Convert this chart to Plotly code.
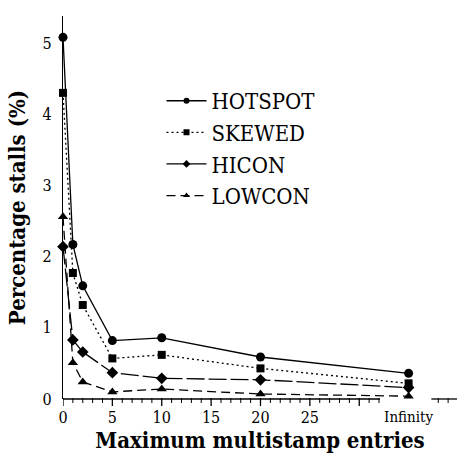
import plotly.graph_objects as go

x_pos = [0, 1, 2, 5, 10, 20, 35]  # 35 = "Infinity"
hotspot = [5.08, 2.17, 1.59, 0.82, 0.86, 0.59, 0.36]
skewed = [4.30, 1.77, 1.32, 0.57, 0.62, 0.43, 0.22]
hicon = [2.14, 0.83, 0.66, 0.37, 0.29, 0.27, 0.16]
lowcon = [2.56, 0.51, 0.24, 0.10, 0.14, 0.07, 0.04]

series = [
    ("HOTSPOT", hotspot, "solid", "circle", 9),
    ("SKEWED", skewed, "2px,3px", "square", 8),
    ("HICON", hicon, "18px,4px", "diamond", 9),
    ("LOWCON", lowcon, "9px,5px", "triangle-up", 9),
]

major_x = [0, 5, 10, 15, 20, 25, 30]
major_x_text = ["0", "5", "10", "15", "20", "25", ""]
minor_x = [v for v in list(range(0, 33)) + [38, 39] if v not in major_x]
major_y = [0, 1, 2, 3, 4, 5]
minor_y = [round(i * 0.1, 1) for i in range(54) if i % 10]
inf_pos = [35]
inf_text = ["Infinity"]

FONT = "DejaVu Serif Condensed, DejaVu Serif"
INK = "black"

fig = go.Figure()
for name, vals, dash, sym, sz in series:
    fig.add_trace(go.Scatter(
        x=x_pos, y=vals, name=name, mode="lines+markers",
        line=dict(color=INK, width=1.3, dash=dash),
        marker=dict(symbol=sym, size=sz, color=INK),
        cliponaxis=False, showlegend=False,
    ))
for name, vals, dash, sym, sz in series:
    fig.add_trace(go.Scatter(
        x=[None], y=[None], name=name, mode="lines+markers",
        line=dict(color=INK, width=1.3, dash=dash),
        marker=dict(symbol=sym, size=6, color=INK),
        showlegend=True,
    ))

fig.add_trace(go.Scatter(x=inf_pos, y=[0], xaxis="x2", mode="markers",
                         marker=dict(opacity=0), showlegend=False, hoverinfo="skip"))

# broken x axis line
fig.add_shape(type="line", xref="x", yref="paper", x0=0, x1=32.1, y0=0, y1=0,
              line=dict(color=INK, width=1.3))
fig.add_shape(type="line", xref="x", yref="paper", x0=37.3, x1=40, y0=0, y1=0,
              line=dict(color=INK, width=1.3))

# tick marks (drawn from the tick lists, pixel lengths)
for vals, ln, w in [(major_x, 7, 1.3), (minor_x, 4, 1)]:
    for v in vals:
        fig.add_shape(type="line", xref="x", yref="paper", ysizemode="pixel",
                      yanchor=0, x0=v, x1=v, y0=1, y1=-ln,
                      line=dict(color=INK, width=w))
for vals, ln, w in [(major_y, 7, 1.3), (minor_y, 4, 1)]:
    for v in vals:
        fig.add_shape(type="line", xref="x", yref="y", xsizemode="pixel",
                      xanchor=0, x0=-ln, x1=0, y0=v, y1=v,
                      line=dict(color=INK, width=w))

fig.update_layout(
    template="none",
    width=457, height=458,
    margin=dict(l=63, r=0, t=16, b=59, pad=0),
    paper_bgcolor="white", plot_bgcolor="white",
    font=dict(family=FONT, color=INK, size=16),
    showlegend=True,
    legend=dict(x=0.25, y=0.833, xanchor="left", yanchor="top",
                font=dict(family=FONT, size=22),
                bgcolor="rgba(0,0,0,0)", itemwidth=40, tracegroupgap=0),
    xaxis=dict(range=[0, 39.9], showline=False, showgrid=False, zeroline=False,
               automargin=False,
               tickmode="array", tickvals=major_x, ticktext=major_x_text,
               ticks="", ticklabelstandoff=7,
               tickfont=dict(family=FONT, size=16),
               title=dict(text="<b>Maximum multistamp entries</b>",
                          font=dict(family=FONT, size=22), standoff=6)),
    xaxis2=dict(range=[0, 39.9], overlaying="x", side="bottom", anchor="y",
                showline=False, showgrid=False, zeroline=False, automargin=False,
                tickmode="array", tickvals=inf_pos, ticktext=inf_text,
                ticks="", ticklabelstandoff=7,
                tickfont=dict(family=FONT, size=15)),
    yaxis=dict(range=[0, 5.38], showline=True, linewidth=1.3, linecolor=INK,
               showgrid=False, zeroline=False, automargin=False,
               tickmode="array", tickvals=major_y,
               ticks="", ticklabelstandoff=7,
               tickfont=dict(family=FONT, size=16),
               title=dict(text="<b>Percentage stalls (%)</b>",
                          font=dict(family=FONT, size=22), standoff=10)),
)

fig.write_html("out.html", config={"displayModeBar": False},
               post_script="document.body.style.margin='0';")
